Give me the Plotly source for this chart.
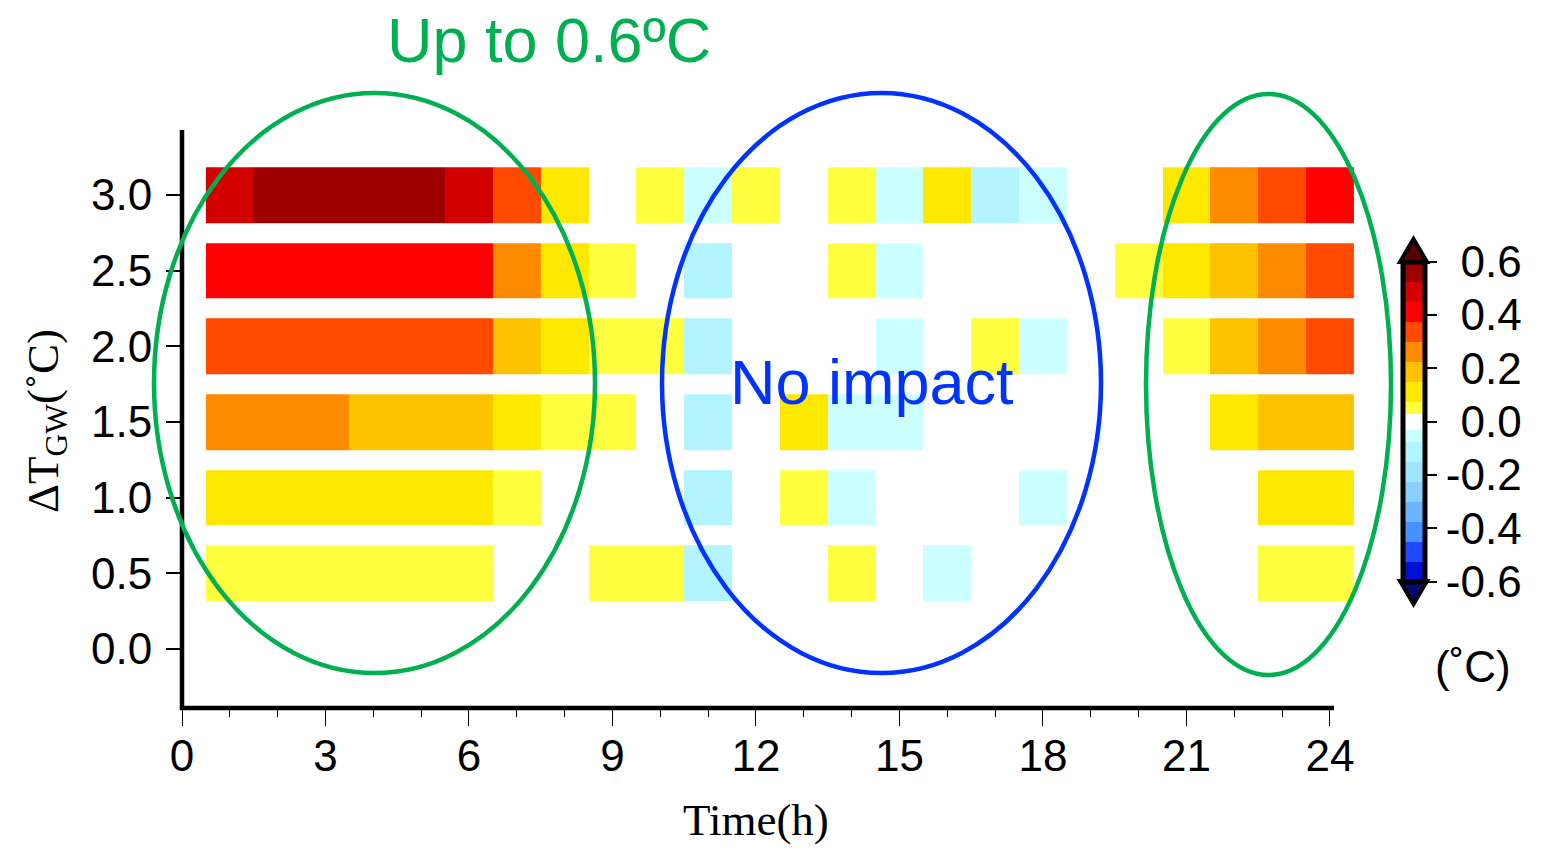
import plotly.graph_objects as go

# ---------------- data ----------------
hours = list(range(1, 25))
dT_gw = [0.0, 0.5, 1.0, 1.5, 2.0, 2.5, 3.0]

# temperature change (degC) per hour, one list per dT_GW row
row_00 = [0.0] * 24
row_05 = [0.05, 0.05, 0.05, 0.05, 0.05, 0.05, 0.0, 0.0, 0.05, 0.05, -0.1, 0.0,
          0.0, 0.05, 0.0, -0.05, 0.0, 0.0, 0.0, 0.0, 0.0, 0.0, 0.05, 0.05]
row_10 = [0.11, 0.11, 0.11, 0.11, 0.11, 0.11, 0.05, 0.0, 0.0, 0.0, -0.11, 0.0,
          0.05, -0.05, 0.0, 0.0, 0.0, -0.05, 0.0, 0.0, 0.0, 0.0, 0.11, 0.11]
row_15 = [0.27, 0.27, 0.27, 0.19, 0.19, 0.19, 0.11, 0.05, 0.05, 0.0, -0.11, 0.0,
          0.11, -0.05, -0.05, 0.0, 0.0, 0.0, 0.0, 0.0, 0.0, 0.11, 0.19, 0.19]
row_20 = [0.34, 0.34, 0.37, 0.34, 0.34, 0.34, 0.19, 0.11, 0.05, 0.05, -0.11, 0.0,
          0.0, 0.0, -0.05, 0.0, 0.05, -0.05, 0.0, 0.0, 0.05, 0.19, 0.27, 0.34]
row_25 = [0.42, 0.42, 0.42, 0.42, 0.42, 0.42, 0.27, 0.11, 0.05, 0.0, -0.1, 0.0,
          0.0, 0.05, -0.05, 0.0, 0.0, 0.0, 0.0, 0.05, 0.11, 0.19, 0.27, 0.34]
row_30 = [0.49, 0.56, 0.56, 0.56, 0.56, 0.49, 0.34, 0.11, 0.0, 0.05, -0.05, 0.05,
          0.0, 0.05, -0.05, 0.11, -0.11, -0.05, 0.0, 0.0, 0.11, 0.27, 0.34, 0.42]
z_rows = [row_00, row_05, row_10, row_15, row_20, row_25, row_30]

x_ticks = [0, 3, 6, 9, 12, 15, 18, 21, 24]
y_ticks = [0.0, 0.5, 1.0, 1.5, 2.0, 2.5, 3.0]
y_ticktext = ["0.0", "0.5", "1.0", "1.5", "2.0", "2.5", "3.0"]
cb_ticks = [-0.6, -0.4, -0.2, 0.0, 0.2, 0.4, 0.6]

# discrete colour levels (boundaries and colours)
levels = [-0.6, -0.525, -0.45, -0.375, -0.3, -0.225, -0.15, -0.075, -0.03,
          0.03, 0.075, 0.15, 0.225, 0.3, 0.375, 0.45, 0.525, 0.6]
level_colors = ["#0010D2", "#2048FF", "#4592FF", "#6CB4FF", "#88D0FF", "#9EE6FF",
                "#B2F4FF", "#CCFFFF", "#FFFFFF", "#FFFF40", "#FFE800", "#FFC200",
                "#FF8C00", "#FF4A00", "#FF0000", "#D20000", "#9E0000"]

# ---------------- layout geometry (pixels) ----------------
W, H = 1549, 851
L, R, T, B = 182, 1363, 130, 708
PX_PER_H = 47.83
x_range = [0, (R - L) / PX_PER_H]
y_range = [-0.39, 3.43]
zmin, zmax = -0.6, 0.6


def px2x(px):
    return (px - L) / (R - L)


def py2y(py):
    return (B - py) / (B - T)


colorscale = []
for i, c in enumerate(level_colors):
    a = (levels[i] - zmin) / (zmax - zmin)
    b = (levels[i + 1] - zmin) / (zmax - zmin)
    colorscale.append([a, c])
    colorscale.append([b, c])

SANS = "Liberation Sans, Arial, Helvetica, sans-serif"
SERIF = "Liberation Serif, Times New Roman, serif"

cb_text = []
for v in cb_ticks:
    s = f"{abs(v):.1f}"
    if v < 0:
        cb_text.append("-" + s)
    else:
        cb_text.append("<span style='color:rgba(0,0,0,0)'>-</span>" + s)

fig = go.Figure()
fig.add_trace(go.Heatmap(
    x=hours, y=dT_gw, z=z_rows,
    zmin=zmin, zmax=zmax, colorscale=colorscale,
    ygap=20, xgap=0,
    colorbar=dict(
        x=px2x(1402.5), xanchor="left", xpad=0,
        y=py2y(421.5), yanchor="middle", ypad=0,
        len=320, lenmode="pixels",
        thickness=22, thicknessmode="pixels",
        outlinewidth=5, outlinecolor="black",
        ticks="outside", ticklen=10, tickwidth=2, tickcolor="black",
        tickvals=cb_ticks, ticktext=cb_text,
        tickfont=dict(family=SANS, size=44, color="black"),
    ),
    hoverongaps=False,
))

fig.update_layout(
    width=W, height=H,
    margin=dict(l=L, r=W - R, t=T, b=H - B, pad=0),
    paper_bgcolor="white", plot_bgcolor="white",
    showlegend=False,
    xaxis=dict(
        range=x_range, tickvals=x_ticks, ticktext=[str(v) for v in x_ticks],
        ticks="outside", ticklen=17, tickwidth=1.2, tickcolor="black",
        minor=dict(dtick=1, tick0=0, ticks="outside", ticklen=8, tickwidth=1.2, tickcolor="black"),
        showgrid=False, zeroline=False, showline=False,
        ticklabelstandoff=-8,
        tickfont=dict(family=SANS, size=44, color="black"),
    ),
    yaxis=dict(
        range=y_range, tickvals=y_ticks, ticktext=y_ticktext,
        ticks="outside", ticklen=15, tickwidth=1.5, tickcolor="black",
        showgrid=False, zeroline=False, showline=False,
        ticklabelstandoff=5,
        tickfont=dict(family=SANS, size=44, color="black"),
    ),
)

shapes = []
# axis lines
shapes.append(dict(type="line", xref="paper", yref="paper",
                   x0=px2x(182), x1=px2x(182), y0=py2y(130), y1=py2y(710),
                   line=dict(color="black", width=4.5)))
shapes.append(dict(type="line", xref="paper", yref="paper",
                   x0=px2x(180), x1=px2x(1334), y0=py2y(708), y1=py2y(708),
                   line=dict(color="black", width=4.5)))
# colorbar end triangles
shapes.append(dict(type="path", xref="paper", yref="paper",
                   path=f"M {px2x(1400)},{py2y(262)} L {px2x(1413.5)},{py2y(239)} L {px2x(1427)},{py2y(262)} Z",
                   fillcolor="#5A0000", line=dict(color="black", width=4)))
shapes.append(dict(type="path", xref="paper", yref="paper",
                   path=f"M {px2x(1400)},{py2y(581)} L {px2x(1413.5)},{py2y(604)} L {px2x(1427)},{py2y(581)} Z",
                   fillcolor="#000A70", line=dict(color="black", width=4)))
# ellipses
GREEN = "#00B050"
BLUE = "#0033FF"
for (x0, x1, y0, y1, col) in [(154, 595, 93, 673, GREEN),
                              (662, 1101, 93, 673, BLUE),
                              (1146, 1391, 94, 675, GREEN)]:
    shapes.append(dict(type="circle", xref="paper", yref="paper",
                       x0=px2x(x0), x1=px2x(x1), y0=py2y(y1), y1=py2y(y0),
                       line=dict(color=col, width=4.5), fillcolor="rgba(0,0,0,0)"))
fig.update_layout(shapes=shapes)

annotations = [
    dict(text="Up to 0.6ºC", x=px2x(549), y=py2y(40), xref="paper", yref="paper",
         showarrow=False, xanchor="center", yanchor="middle",
         font=dict(family=SANS, size=63, color=GREEN)),
    dict(text="No impact", x=px2x(872), y=py2y(382), xref="paper", yref="paper",
         showarrow=False, xanchor="center", yanchor="middle",
         font=dict(family=SANS, size=63, color=BLUE)),
    dict(text="(˚C)", x=px2x(1473), y=py2y(666), xref="paper", yref="paper",
         showarrow=False, xanchor="center", yanchor="middle",
         font=dict(family=SANS, size=44, color="black")),
    dict(text="Time(h)", x=px2x(756), y=py2y(820), xref="paper", yref="paper",
         showarrow=False, xanchor="center", yanchor="middle",
         font=dict(family=SERIF, size=45, color="black")),
    dict(text="ΔT<sub>GW</sub>(˚C)", x=px2x(46), y=py2y(421), xref="paper", yref="paper",
         showarrow=False, xanchor="center", yanchor="middle", textangle=-90,
         font=dict(family=SERIF, size=45, color="black")),
]
fig.update_layout(annotations=annotations)

fig.write_html("out.html")
